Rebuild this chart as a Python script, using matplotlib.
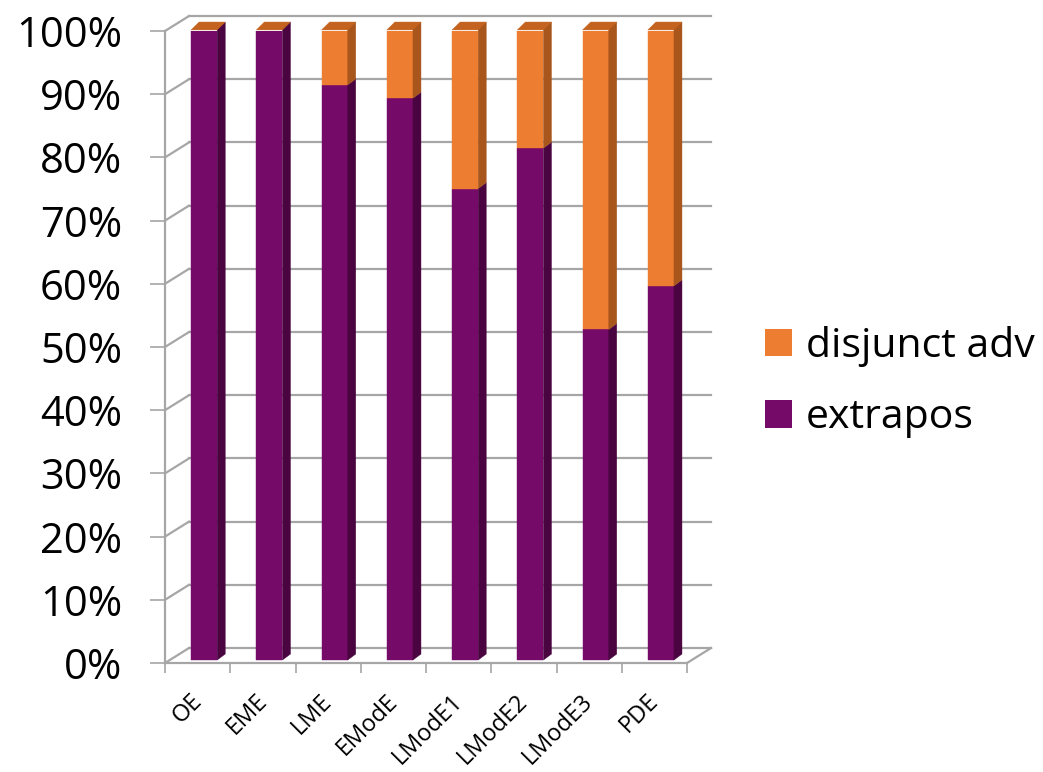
import numpy as np
import matplotlib
matplotlib.use('Agg')
import matplotlib.pyplot as plt
from matplotlib.patches import Polygon, Patch
from matplotlib.ticker import PercentFormatter
import matplotlib.transforms as mtransforms

plt.rcParams['font.family'] = ['Open Sans', 'DejaVu Sans']

#=========================#
#  data                   #
#=========================#
periods  = ['OE', 'EME', 'LME', 'EModE', 'LModE1', 'LModE2', 'LModE3', 'PDE']
extrapos = np.array([100.0, 100.0, 91.0, 88.9, 74.6, 81.0, 52.3, 59.2])
disjunct = 100.0 - extrapos
series_names = ['extrapos', 'disjunct adv']

#=========================#
#  style                  #
#=========================#
c_grid = '#A6A6A6'
c_pur, c_pur_side = '#760A68', '#4A0541'
c_org, c_org_side, c_org_top = '#ED7D31', '#A9561D', '#C4631F'

wall_dx, wall_dy = 0.368, 2.37     # depth of the back wall (data units)
bar_fx, bar_fy = 0.10, 0.47        # front face offset into the floor
bar_dx, bar_dy = 0.123, 0.95       # bar depth
bar_w = 0.40

#=========================#
#  figure                 #
#=========================#
fig = plt.figure(figsize=(10.43, 7.72), dpi=100, facecolor='white')
ax = fig.add_axes([165/1043, 109/772, 522/1043, 632/772], facecolor='none')
ax.set_xlim(0, len(periods))
ax.set_ylim(0, 100)

# back wall grid + left wall diagonals + floor edge
yt = np.arange(0, 101, 10)
for k in yt:
    ax.plot([wall_dx, len(periods) + wall_dx], [k + wall_dy, k + wall_dy], c=c_grid, lw=1.6, zorder=1, clip_on=False)
    ax.plot([0, wall_dx], [k, k + wall_dy], c=c_grid, lw=1.6, zorder=1, clip_on=False)
ax.plot([len(periods), len(periods) + wall_dx], [0, wall_dy], c=c_grid, lw=1.6, zorder=1, clip_on=False)

# bars (front faces)
xc = np.arange(len(periods)) + 0.5
x0 = xc - bar_w / 2 + bar_fx
ax.bar(x0, extrapos, width=bar_w, bottom=bar_fy, align='edge', color=c_pur, ec=c_pur, lw=0.3, zorder=3)
ax.bar(x0, disjunct, width=bar_w, bottom=bar_fy + extrapos, align='edge', color=c_org, ec=c_org, lw=0.3, zorder=3)

# side and top faces
for i in range(len(periods)):
    xr = x0[i] + bar_w
    segs = [(0.0, extrapos[i], c_pur_side), (extrapos[i], 100.0, c_org_side)]
    for lo, hi, col in segs:
        if hi - lo <= 0:
            continue
        ax.add_patch(Polygon([(xr, lo + bar_fy), (xr + bar_dx, lo + bar_fy + bar_dy),
                              (xr + bar_dx, hi + bar_fy + bar_dy), (xr, hi + bar_fy)],
                             closed=True, fc=col, ec=col, lw=0.3, zorder=3, clip_on=False))
    top = 100.0 + bar_fy
    ax.add_patch(Polygon([(x0[i], top - 0.3), (xr, top - 0.3), (xr + bar_dx, top + bar_dy), (x0[i] + bar_dx, top + bar_dy)],
                         closed=True, fc=c_org_top, ec=c_org_top, lw=0.3, zorder=4, clip_on=False))

# spines
for s in ['top', 'right']:
    ax.spines[s].set_visible(False)
for s in ['left', 'bottom']:
    ax.spines[s].set_color(c_grid)
    ax.spines[s].set_linewidth(1.6)
    ax.spines[s].set_zorder(2)

# y ticks
ax.set_yticks(yt)
ax.yaxis.set_major_formatter(PercentFormatter(decimals=0))
ax.tick_params(axis='y', which='major', direction='out', length=10.8, width=1.2, color=c_grid,
               labelsize=30, pad=20)

# x ticks: edges as marks, centres as labels
ax.set_xticks(np.arange(len(periods) + 1))
ax.set_xticklabels([])
ax.tick_params(axis='x', which='major', direction='out', length=7.2, width=1.2, color=c_grid)
ax.set_xticks(xc, minor=True)
ax.set_xticklabels(periods, minor=True)
ax.tick_params(axis='x', which='minor', length=0, labelsize=17, pad=19)
shift = mtransforms.ScaledTranslation(-8/100, 0, fig.dpi_scale_trans)
for lbl in ax.get_xticklabels(minor=True):
    lbl.set_rotation(45)
    lbl.set_ha('right')
    lbl.set_va('top')
    lbl.set_rotation_mode('anchor')
    lbl.set_transform(lbl.get_transform() + shift)

# legend
handles = [Patch(fc=c_org, ec='none'), Patch(fc=c_pur, ec='none')]
fig.legend(handles, [series_names[1], series_names[0]], loc='center left',
           bbox_to_anchor=(765/1043, 1 - 382/772), frameon=False, fontsize=29.5,
           handlelength=0.67, handleheight=0.67, handletextpad=0.33,
           labelspacing=0.75, borderpad=0, borderaxespad=0)

fig.savefig('out.png', dpi=100, facecolor='white')
plt.close()
